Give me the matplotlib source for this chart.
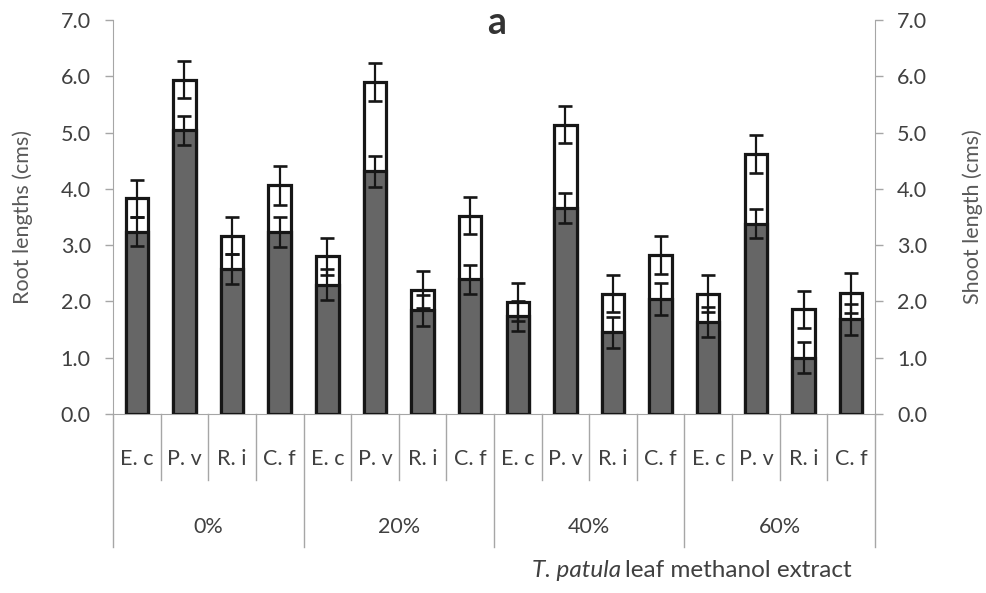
import matplotlib
matplotlib.use("Agg")
import matplotlib.pyplot as plt
import numpy as np

plt.rcParams["font.family"] = ["Lato", "DejaVu Sans"]

species = ["E. c", "P. v", "R. i", "C. f"]
doses = ["0%", "20%", "40%", "60%"]

# mean lengths (cm) per species within each dose, and their error values
shoot = [3.83, 5.94, 3.17, 4.06, 2.80, 5.90, 2.21, 3.52,
         1.99, 5.14, 2.14, 2.83, 2.14, 4.62, 1.86, 2.15]
shoot_err = [0.33, 0.33, 0.33, 0.35, 0.33, 0.34, 0.33, 0.33,
             0.33, 0.33, 0.33, 0.34, 0.33, 0.34, 0.33, 0.35]
root = [3.24, 5.04, 2.58, 3.23, 2.30, 4.31, 1.84, 2.39,
        1.74, 3.66, 1.45, 2.04, 1.63, 3.38, 1.00, 1.68]
root_err = [0.26, 0.26, 0.27, 0.27, 0.27, 0.28, 0.28, 0.26,
            0.27, 0.27, 0.28, 0.28, 0.27, 0.26, 0.27, 0.27]

txt = "#404040"
axc = "#a6a6a6"
edge = "#161616"

fig = plt.figure(figsize=(9.87, 5.93), dpi=100)
ax = fig.add_axes([0.1145, 0.3019, 0.772, 0.6644])
ax2 = ax.twinx()

n = len(shoot)
x = np.arange(n)
w = 0.47

ax.bar(x, shoot, w, color="white", edgecolor=edge, linewidth=2.3, zorder=2)
ax.bar(x, root, w, color="#666666", edgecolor=edge, linewidth=2.3, zorder=3)
ax.errorbar(x, shoot, yerr=shoot_err, fmt="none", ecolor=edge,
            elinewidth=1.6, capsize=5.3, capthick=1.9, zorder=4)
ax.errorbar(x, root, yerr=root_err, fmt="none", ecolor=edge,
            elinewidth=1.6, capsize=5.3, capthick=1.9, zorder=4)

for a in (ax, ax2):
    a.set_xlim(-0.5, n - 0.5)
    a.set_ylim(0, 7)
    a.set_yticks(np.arange(0, 7.1, 1.0))
    a.set_yticklabels([f"{v:.1f}" for v in np.arange(0, 7.1, 1.0)])
    a.tick_params(axis="y", colors=axc, labelcolor=txt, labelsize=15.5,
                  length=6, width=1, pad=10)
    for s in a.spines.values():
        s.set_visible(False)
ax.spines["left"].set_visible(True)
ax.spines["left"].set_color(axc)
ax.spines["bottom"].set_visible(True)
ax.spines["bottom"].set_color(axc)
ax2.spines["right"].set_visible(True)
ax2.spines["right"].set_color(axc)
ax.set_xticks([])

ax.set_ylabel("Root lengths (cms)", color="#595959", fontsize=15.5, labelpad=20)
ax2.set_ylabel("Shoot length (cms)", color="#595959", fontsize=15.5, labelpad=25)

# two-level category axis below the plot
tr = ax.get_xaxis_transform()
for i in range(n + 1):
    bottom = -0.3376 if i % 4 == 0 else -0.1675
    ax.plot([i - 0.5, i - 0.5], [0, bottom], color=axc, lw=1,
            transform=tr, clip_on=False)
for i in range(n):
    ax.text(i, -0.115, species[i % 4], transform=tr, ha="center",
            va="center", fontsize=15.5, color=txt)
for g, lab in enumerate(doses):
    ax.text(4 * g + 1.5, -0.287, lab, transform=tr, ha="center",
            va="center", fontsize=15.5, color=txt)

# axis title: italic species name followed by plain text
t1 = fig.text(0.539, 0.038, "T. patula", ha="left", va="center",
              fontsize=17.5, color=txt, style="italic")
fig.canvas.draw()
bb = t1.get_window_extent().transformed(fig.transFigure.inverted())
fig.text(bb.x1 + 0.004, 0.038, "leaf methanol extract", ha="left",
         va="center", fontsize=17.5, color=txt)

fig.text(0.503, 0.962, "a", ha="center", va="center", fontsize=27,
         fontweight="bold", color="#333333")

fig.savefig("out.png", dpi=100, facecolor="white")
